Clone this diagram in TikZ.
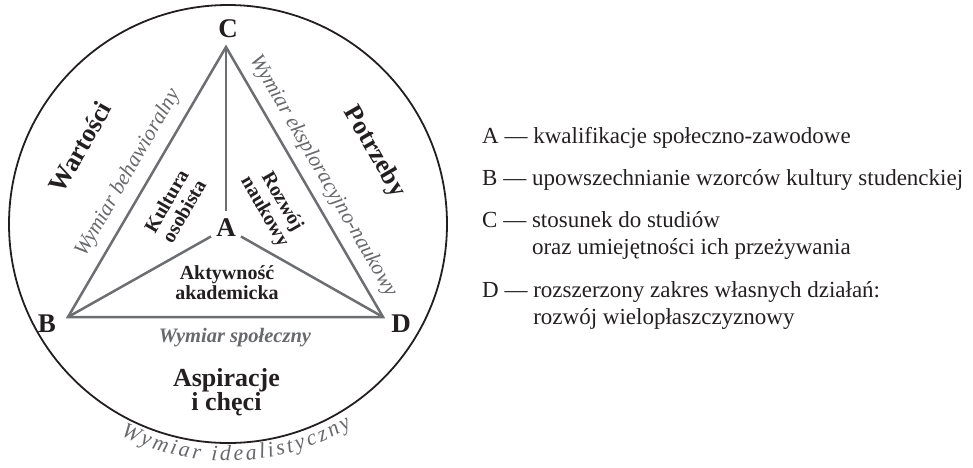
\documentclass[tikz,border=0pt]{standalone}
\usepackage{fontspec}
\setmainfont{Liberation Serif}
\usetikzlibrary{calc}
\definecolor{ink}{HTML}{231F20}
\definecolor{tri}{HTML}{6D6E71}
\definecolor{dim}{HTML}{68696C}
\newsavebox\chbox
\newdimen\arcacc
\newcommand\idfont{\fontsize{22}{22}\selectfont\itshape}
\def\idR{237}
\def\idMid{-88}
\def\idTrack{2.8}
\begin{document}%
\sbox\chbox{\idfont Wymiar idealistyczny}%
\pgfmathsetmacro\idTotal{\the\wd\chbox + 19*\idTrack}%
\pgfmathsetmacro\idStart{\idMid - (\idTotal/2)/\idR*180/pi}%
\global\arcacc=0pt%
\foreach \ch [count=\i] in {W,y,m,i,a,r,~,i,d,e,a,l,i,s,t,y,c,z,n,y}{%
  \sbox\chbox{\idfont\ch}%
  \pgfmathsetmacro\angtmp{\idStart + (\the\arcacc + 0.5*\the\wd\chbox)/\idR*180/pi}%
  \expandafter\xdef\csname idang\i\endcsname{\angtmp}%
  \global\advance\arcacc by \wd\chbox\relax
  \global\advance\arcacc by \idTrack pt\relax
}%
\begin{tikzpicture}[x=1pt,y=1pt,
  edge/.style={draw=tri, line width=2.5pt},
  vlabel/.style={font=\fontsize{27}{30}\selectfont\bfseries, text=ink},
  big/.style={font=\fontsize{26}{24}\selectfont\bfseries, text=ink, align=center},
  innerlab/.style={font=\fontsize{20}{20}\selectfont\bfseries, text=ink, align=center},
  dimlabel/.style={font=\fontsize{21.5}{24}\selectfont\itshape, text=dim},
  dimbold/.style={font=\fontsize{20.5}{24}\selectfont\bfseries\itshape, text=dim},
  dimchar/.style={font=\idfont, text=dim, inner sep=0pt},
  legend/.style={font=\fontsize{23}{28}\selectfont, text=ink, anchor=base west, inner sep=0pt}]
\useasboundingbox (0,0) rectangle (973,-467);

% outer circle
\node[draw=ink, line width=1.8pt, circle, minimum size=438pt, inner sep=0pt] (ring) at (228,-224) {};

% triangle apexes
\coordinate (pC) at (226,-47);
\coordinate (pB) at (68,-317);
\coordinate (pD) at (383,-317);

% vertex labels
\node[vlabel, circle, minimum size=34pt, inner sep=0pt] (A) at (226,-228) {A};
\node[vlabel] (C) at (228,-29) {C};
\node[vlabel] (B) at (47,-324) {B};
\node[vlabel] (D) at (401,-324) {D};

% edges
\draw[edge] (pB) -- (pC) -- (pD) -- cycle;
\draw[edge] (pC) -- (A);
\draw[edge] (pB) -- (A);
\draw[edge] (pD) -- (A);

% region labels
\node[big, rotate=60] (wart) at (80,-147) {Wartości};
\node[big, rotate=-60] (potr) at (374,-152) {Potrzeby};
\node[big] (asp) at (226.5,-392) {Aspiracje\\i chęci};

\node[innerlab, rotate=60] (kult) at (175,-206) {Kultura\\osobista};
\node[innerlab, rotate=-60] (rozw) at (273,-207) {Rozwój\\naukowy};
\node[innerlab] (akt) at (227,-283) {Aktywność\\akademicka};

% dimension labels
\node[dimlabel, rotate=60] (wbeh) at (128,-173) {Wymiar behawioralny};
\node[dimlabel, rotate=-60] (weks) at (323,-176) {Wymiar eksploracyjno-naukowy};
\node[dimbold] (wspo) at (235,-338) {Wymiar społeczny};

% arc text (angles computed before the picture)
\foreach \ch [count=\i] in {W,y,m,i,a,r,~,i,d,e,a,l,i,s,t,y,c,z,n,y}{
  \edef\ang{\csname idang\i\endcsname}
  \node[dimchar, rotate=\ang+90, anchor=base] (id\i) at ($(ring.center)+(\ang:\idR)$) {\ch};
}

% legend
\node[legend] (lA) at (482,-143) {A — kwalifikacje społeczno-zawodowe};
\node[legend] (lB) at (482,-185) {B — upowszechnianie wzorców kultury studenckiej};
\node[legend] (lC) at (482,-227) {C — stosunek do studiów};
\node[legend] (lC2) at (482,-254) {\hphantom{C — }oraz umiejętności ich przeżywania};
\node[legend] (lD) at (482,-297) {D — rozszerzony zakres własnych działań:};
\node[legend] (lD2) at (482,-324) {\hphantom{D — }rozwój wielopłaszczyznowy};
\end{tikzpicture}
\end{document}
